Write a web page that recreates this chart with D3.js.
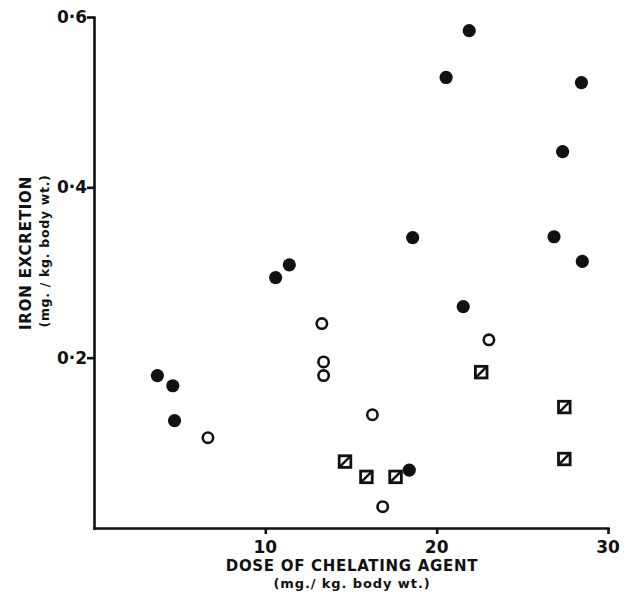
<!DOCTYPE html>
<html>
<head>
<meta charset="utf-8">
<script src="https://cdn.jsdelivr.net/npm/d3@7"></script>
<style>
  body { margin: 0; background: #fff; }
  text { font-family: "DejaVu Sans", sans-serif; font-weight: bold; fill: #111; }
  .axis path, .axis line { stroke: #111; stroke-width: 2.6; }
</style>
</head>
<body>
<script>
// filled circles
let filledX = [3.7, 4.6, 4.7, 10.6, 11.4, 18.6, 20.55, 21.9, 21.55, 18.4, 28.45, 27.35, 26.85, 28.5];
let filledY = [0.179, 0.167, 0.126, 0.294, 0.309, 0.341, 0.529, 0.584, 0.260, 0.068, 0.523, 0.442, 0.342, 0.313];
// open circles
let openX = [6.65, 13.3, 13.4, 13.4, 16.25, 16.85, 23.05];
let openY = [0.106, 0.240, 0.195, 0.179, 0.133, 0.025, 0.221];
// squares with a diagonal
let squareX = [14.65, 15.9, 17.6, 22.6, 27.45, 27.45];
let squareY = [0.078, 0.060, 0.060, 0.183, 0.142, 0.081];

let xTicks = [10, 20, 30];
let yTicks = [0.2, 0.4, 0.6];

let width = 626
let height = 594

let svg = d3.select('body').append('svg')
    .attr('width', width)
    .attr('height', height);

let x = d3.scaleLinear().domain([0, 30]).range([94, 608]);
let y = d3.scaleLinear().domain([0, 0.6]).range([528, 17]);

// axes
let xAxis = svg.append('g').attr('class', 'axis')
    .attr('transform', `translate(0,${ y(0) })`)
    .call(d3.axisBottom(x).tickValues(xTicks).tickSize(6).tickSizeOuter(0).tickFormat(''));
let yAxis = svg.append('g').attr('class', 'axis')
    .attr('transform', `translate(${ x(0) },0)`)
    .call(d3.axisLeft(y).tickValues(yTicks).tickSize(7).tickSizeOuter(0).tickFormat(''));
svg.selectAll('.axis path').attr('stroke-linecap', 'square');

svg.selectAll('text.xtick').data(xTicks)
    .join('text')
    .attr('class', 'xtick')
    .attr('x', d => x(d))
    .attr('y', 553)
    .attr('text-anchor', 'middle')
    .style('font-size', '17px')
    .text(d => d);

svg.selectAll('text.ytick').data(yTicks)
    .join('text')
    .attr('class', 'ytick')
    .attr('x', 87)
    .attr('y', d => y(d) + 6)
    .attr('text-anchor', 'end')
    .style('font-size', '17px')
    .text(d => d3.format('.1f')(d).replace('.', '\u00b7'));

// axis titles
svg.append('text')
    .attr('x', 352).attr('y', 571)
    .attr('text-anchor', 'middle')
    .style('font-size', '15px')
    .style('letter-spacing', '0.7px')
    .text('DOSE OF CHELATING AGENT');
svg.append('text')
    .attr('x', 352).attr('y', 588)
    .attr('text-anchor', 'middle')
    .style('font-size', '13px')
    .style('letter-spacing', '0.9px')
    .text('(mg./ kg. body wt.)');

svg.append('text')
    .attr('transform', 'translate(31,253) rotate(-90)')
    .attr('text-anchor', 'middle')
    .style('font-size', '15px')
    .style('letter-spacing', '0.8px')
    .text('IRON EXCRETION');
svg.append('text')
    .attr('transform', 'translate(49,251) rotate(-90)')
    .attr('text-anchor', 'middle')
    .style('font-size', '12.5px')
    .style('letter-spacing', '0.7px')
    .text('(mg. / kg. body wt.)');

// marks
let plot = svg.append('g');

plot.selectAll('circle.filled').data(filledX)
    .join('circle')
    .attr('class', 'filled')
    .attr('cx', d => x(d))
    .attr('cy', (d, i) => y(filledY[i]))
    .attr('r', 6.6)
    .attr('fill', '#111');

plot.selectAll('circle.open').data(openX)
    .join('circle')
    .attr('class', 'open')
    .attr('cx', d => x(d))
    .attr('cy', (d, i) => y(openY[i]))
    .attr('r', 5.2)
    .attr('fill', 'none')
    .attr('stroke', '#111')
    .attr('stroke-width', 2.6);

let s = 5.8;
let sq = plot.selectAll('g.sq').data(squareX)
    .join('g')
    .attr('class', 'sq')
    .attr('transform', (d, i) => `translate(${ x(d) },${ y(squareY[i]) })`);
sq.append('rect')
    .attr('x', -s).attr('y', -s)
    .attr('width', 2 * s).attr('height', 2 * s)
    .attr('fill', 'none')
    .attr('stroke', '#111')
    .attr('stroke-width', 2.8);
sq.append('line')
    .attr('x1', -s).attr('y1', s)
    .attr('x2', s).attr('y2', -s)
    .attr('stroke', '#111')
    .attr('stroke-width', 2.4);
</script>
</body>
</html>
